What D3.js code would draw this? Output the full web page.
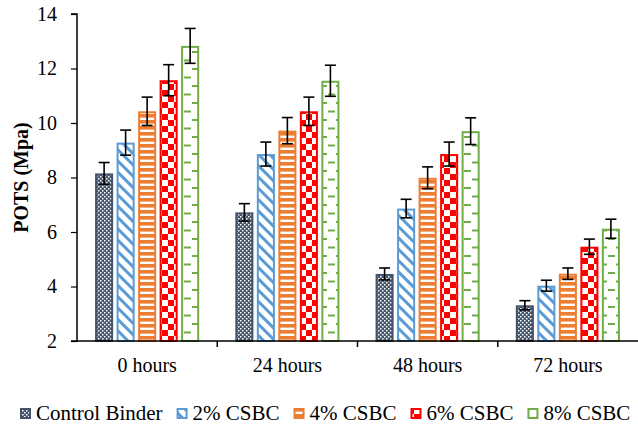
<!DOCTYPE html>
<html>
<head>
<meta charset="utf-8">
<script src="https://cdn.jsdelivr.net/npm/d3@7"></script>
<style>
  body { margin: 0; background: #fff; }
  svg text { font-family: "Liberation Serif", "Times New Roman", serif; fill: #000; }
</style>
</head>
<body>
<svg id="chart" width="638" height="427"></svg>
<script>
// data
const categories = ["0 hours", "24 hours", "48 hours", "72 hours"];
const seriesNames = ["Control Binder", "2% CSBC", "4% CSBC", "6% CSBC", "8% CSBC"];
const control = [8.15, 6.72, 4.46, 3.31];
const csbc2 = [9.28, 8.86, 6.86, 4.03];
const csbc4 = [10.43, 9.72, 7.99, 4.47];
const csbc6 = [11.57, 10.43, 8.86, 5.46];
const csbc8 = [12.83, 11.55, 9.70, 6.12];
const errControl = [0.40, 0.32, 0.22, 0.17];
const err2 = [0.46, 0.44, 0.34, 0.20];
const err4 = [0.52, 0.48, 0.40, 0.21];
const err6 = [0.57, 0.52, 0.44, 0.28];
const err8 = [0.64, 0.57, 0.49, 0.35];
const yTicks = [2, 4, 6, 8, 10, 12, 14];

const values = [control, csbc2, csbc4, csbc6, csbc8];
const errors = [errControl, err2, err4, err6, err8];
const colors = ["#44546A", "#5B9BD5", "#ED7D31", "#FF0000", "#70AD47"];
const patIds = ["pCtrl", "pBlue", "pOrange", "pRed", "pGreen"];
const FONT = "Liberation Serif, Times New Roman, serif";

const svg = d3.select("#chart");
const margin = {left: 77, right: 0, top: 14, bottom: 86};
const W = 638, H = 427;

const x0 = d3.scaleBand().domain(categories).range([margin.left, W - margin.right]);
const x1 = d3.scaleBand().domain(seriesNames).range([0, x0.bandwidth()])
    .paddingInner(0.16).paddingOuter(0.84);
const y = d3.scaleLinear().domain([2, 14]).range([H - margin.bottom, margin.top]);

// fill patterns (Excel style)
const defs = svg.append("defs");

let p = defs.append("pattern").attr("id", "pCtrl").attr("patternUnits", "userSpaceOnUse")
    .attr("width", 4).attr("height", 4);
p.append("rect").attr("width", 4).attr("height", 4).attr("fill", colors[0]);
p.append("rect").attr("x", 0).attr("y", 0).attr("width", 1.5).attr("height", 1.5).attr("fill", "#fff");
p.append("rect").attr("x", 2).attr("y", 2).attr("width", 1.5).attr("height", 1.5).attr("fill", "#fff");

p = defs.append("pattern").attr("id", "pBlue").attr("patternUnits", "userSpaceOnUse")
    .attr("width", 8).attr("height", 8).attr("patternTransform", "rotate(-45)");
p.append("rect").attr("width", 8).attr("height", 8).attr("fill", "#fff");
p.append("rect").attr("width", 3).attr("height", 8).attr("fill", colors[1]);

p = defs.append("pattern").attr("id", "pOrange").attr("patternUnits", "userSpaceOnUse")
    .attr("width", 6).attr("height", 6);
p.append("rect").attr("width", 6).attr("height", 6).attr("fill", "#fff");
p.append("rect").attr("width", 6).attr("height", 3.6).attr("fill", colors[2]);

p = defs.append("pattern").attr("id", "pRed").attr("patternUnits", "userSpaceOnUse")
    .attr("width", 12).attr("height", 12);
p.append("rect").attr("width", 12).attr("height", 12).attr("fill", "#fff");
p.append("rect").attr("width", 6).attr("height", 6).attr("fill", colors[3]);
p.append("rect").attr("x", 6).attr("y", 6).attr("width", 6).attr("height", 6).attr("fill", colors[3]);

p = defs.append("pattern").attr("id", "pGreen").attr("patternUnits", "userSpaceOnUse")
    .attr("width", 16).attr("height", 17);
p.append("rect").attr("width", 16).attr("height", 17).attr("fill", "#fff");
p.append("rect").attr("x", 0).attr("y", 0).attr("width", 7).attr("height", 2).attr("fill", colors[4]);
p.append("rect").attr("x", 8).attr("y", 8.5).attr("width", 7).attr("height", 2).attr("fill", colors[4]);

// bars
const rows = [];
seriesNames.forEach((s, si) => {
    categories.forEach((c, ci) => {
        rows.push({s, si, c, v: values[si][ci], e: errors[si][ci]});
    });
});

svg.append("g").selectAll("rect")
    .data(rows)
    .join("rect")
    .attr("x", d => x0(d.c) + x1(d.s) + 1)
    .attr("y", d => y(d.v) + 1)
    .attr("width", x1.bandwidth() - 2)
    .attr("height", d => y(2) - y(d.v) - 1)
    .attr("fill", d => "url(#" + patIds[d.si] + ")")
    .attr("stroke", d => colors[d.si])
    .attr("stroke-width", 2);

// error bars
const eb = svg.append("g").attr("stroke", "#000").attr("stroke-width", 1.6);
rows.forEach(d => {
    const cx = x0(d.c) + x1(d.s) + x1.bandwidth() / 2;
    eb.append("line").attr("x1", cx).attr("x2", cx).attr("y1", y(d.v + d.e)).attr("y2", y(d.v - d.e));
    eb.append("line").attr("x1", cx - 5.5).attr("x2", cx + 5.5).attr("y1", y(d.v + d.e)).attr("y2", y(d.v + d.e));
    eb.append("line").attr("x1", cx - 5.5).attr("x2", cx + 5.5).attr("y1", y(d.v - d.e)).attr("y2", y(d.v - d.e));
});

// y axis
const yAxis = svg.append("g").attr("transform", `translate(${margin.left},0)`)
    .call(d3.axisLeft(y).tickValues(yTicks).tickSize(6).tickPadding(14).tickFormat(d3.format("d")));
yAxis.attr("font-family", FONT);
yAxis.select(".domain").attr("stroke", "#000").attr("stroke-width", 1.5).attr("d", `M-6,${y(2)}H0V${y(14)}H-6`);
yAxis.selectAll(".tick line").attr("stroke", "#000").attr("stroke-width", 1.2);
yAxis.selectAll(".tick text").attr("font-size", 20).attr("font-family", FONT);

// x axis
const xAxis = svg.append("g").attr("transform", `translate(0,${y(2)})`);
xAxis.append("line").attr("x1", margin.left).attr("x2", W).attr("y1", 0).attr("y2", 0)
    .attr("stroke", "#000").attr("stroke-width", 1.5);
xAxis.selectAll(".sep").data(categories.slice(1)).join("line")
    .attr("x1", d => x0(d)).attr("x2", d => x0(d)).attr("y1", 0).attr("y2", 6)
    .attr("stroke", "#000").attr("stroke-width", 1.5);
xAxis.selectAll("text").data(categories).join("text")
    .attr("x", d => x0(d) + x0.bandwidth() / 2).attr("y", 31)
    .attr("text-anchor", "middle").attr("font-size", 20).attr("font-family", FONT).text(d => d);

// y label
svg.append("text")
    .attr("transform", `translate(28,${(y(2) + y(14)) / 2}) rotate(-90)`)
    .attr("text-anchor", "middle").attr("font-size", 20).attr("font-weight", "bold")
    .attr("font-family", FONT)
    .text("POTS (Mpa)");

// legend
const legend = svg.append("g");
let lx = 20;
seriesNames.forEach((s, i) => {
    legend.append("rect").attr("x", lx + 1).attr("y", 409).attr("width", 9).attr("height", 9)
        .attr("fill", "url(#" + patIds[i] + ")").attr("stroke", colors[i]).attr("stroke-width", 2);
    const t = legend.append("text").attr("x", lx + 16).attr("y", 420)
        .attr("font-size", 21).attr("font-family", FONT).text(s);
    lx += 16 + t.node().getComputedTextLength() + 14;
});
</script>
</body>
</html>
